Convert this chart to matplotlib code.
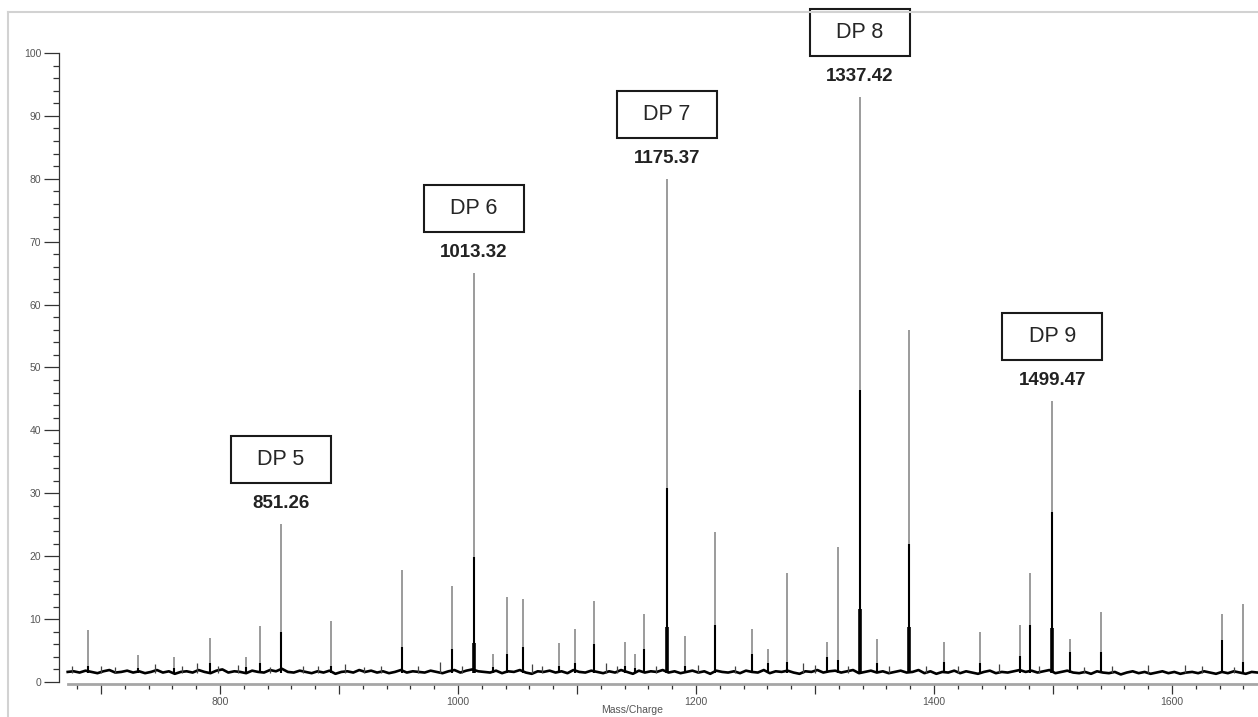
import numpy as np
import matplotlib
matplotlib.use("Agg")
from matplotlib import pyplot as plt
from matplotlib import rcParams
from matplotlib.patches import Rectangle
from matplotlib.lines import Line2D
from matplotlib.ticker import MultipleLocator, FuncFormatter
import matplotlib.transforms as mtransforms

rcParams['font.family'] = ['Liberation Sans', 'DejaVu Sans']

# Peaks: m/z, full stick height (gray), profile height (black)
peak_mz = [688.9, 731.1, 761.6, 791.7, 821.5, 833.6, 851.26, 893.6, 953.3, 994.9,
           1013.32, 1029.4, 1041.3, 1055.0, 1084.9, 1098.3, 1114.3, 1140.3, 1148.7,
           1156.5, 1175.37, 1190.7, 1216.1, 1247.0, 1260.5, 1276.6, 1310.3, 1319.2,
           1337.42, 1352.5, 1378.9, 1408.5, 1438.5, 1472.0, 1481.0, 1499.47, 1514.0,
           1540.0, 1642.0, 1660.0]
peak_full = [8.3, 4.3, 4.0, 7.0, 3.9, 8.9, 25.1, 9.7, 17.8, 15.3,
             65.0, 4.5, 13.5, 13.2, 6.2, 8.4, 12.9, 6.3, 4.5,
             10.8, 80.0, 7.3, 23.8, 8.4, 5.2, 17.3, 6.3, 21.4,
             93.0, 6.9, 56.0, 6.4, 8.0, 9.1, 17.4, 44.6, 6.8,
             11.1, 10.8, 12.4]
peak_profile = [2.5, 2.3, 2.3, 3.0, 2.4, 3.0, 7.9, 2.6, 5.6, 5.2,
                19.8, 2.4, 4.4, 5.6, 2.6, 3.0, 6.0, 2.6, 2.3,
                5.3, 30.9, 2.6, 9.1, 4.4, 3.0, 3.2, 4.0, 3.5,
                46.4, 3.0, 22.0, 3.2, 3.0, 4.2, 9.0, 27.0, 4.8,
                4.7, 6.6, 3.1]

# thicker core of the biggest peaks
core_mz = [1013.32, 1175.37, 1337.42, 1378.9, 1499.47]
core_h = [6.2, 8.7, 11.6, 8.8, 8.6]

# small spikes in the noise
spike_mz = [676, 700, 712, 745, 768, 781, 798, 815, 842, 870, 882, 905, 921, 935,
            966, 985, 1003, 1062, 1071, 1124, 1134, 1166, 1202, 1233, 1290, 1300,
            1328, 1362, 1393, 1420, 1455, 1488, 1526, 1550, 1580, 1611, 1625, 1652]
spike_h = [2.5, 2.6, 2.4, 2.8, 2.5, 3.0, 2.6, 2.7, 2.4, 2.6, 2.5, 2.9, 2.4, 2.5,
           2.6, 3.2, 2.5, 2.8, 2.5, 3.0, 2.6, 2.5, 2.7, 2.6, 3.0, 2.7,
           2.6, 2.5, 2.6, 2.6, 2.8, 2.5, 2.4, 2.6, 2.7, 2.7, 2.5, 2.4]

# baseline noise, sampled every 5 m/z from 672
noise_start, noise_step = 672, 5
noise = [1.6, 1.7, 1.5, 1.8, 1.6, 1.4, 1.7, 1.9, 1.5, 1.6,
         1.8, 1.5, 1.7, 1.4, 1.6, 1.9, 1.5, 1.7, 1.3, 1.6,
         1.7, 1.5, 1.9, 1.6, 1.4, 1.8, 2.0, 1.5, 1.7, 1.6,
         1.4, 1.8, 1.6, 1.5, 1.9, 1.7, 2.1, 1.6, 1.5, 1.8,
         1.6, 1.4, 1.7, 1.5, 1.8, 1.3, 1.6, 1.7, 1.5, 1.9,
         1.6, 1.8, 1.5, 1.7, 1.4, 1.6, 1.9, 1.5, 1.7, 1.6,
         1.5, 1.8, 1.6, 1.4, 1.7, 1.9, 1.5, 1.8, 2.0, 1.7,
         1.6, 1.5, 1.8, 1.4, 1.7, 1.6, 1.9, 1.5, 1.3, 1.7,
         1.6, 1.8, 1.5, 1.7, 1.4, 1.9, 1.6, 1.5, 1.8, 1.6,
         1.4, 1.7, 1.5, 1.9, 1.6, 1.3, 1.8, 1.5, 1.7, 1.6,
         1.9, 1.5, 1.7, 1.4, 1.6, 1.8, 1.5, 1.7, 1.3, 1.8,
         1.6, 1.5, 1.7, 1.4, 1.8, 1.6, 1.5, 1.9, 1.4, 1.7,
         1.6, 1.8, 1.5, 1.3, 1.7, 1.6, 1.9, 1.5, 1.7, 1.8,
         1.5, 1.7, 1.9, 1.4, 1.6, 1.8, 1.5, 1.7, 1.4, 1.6,
         1.8, 1.5, 1.6, 1.9, 1.4, 1.7, 1.3, 1.6, 1.5, 1.8,
         1.4, 1.7, 1.5, 1.3, 1.6, 1.8, 1.4, 1.6, 1.5, 1.7,
         1.9, 1.6, 1.8, 1.5, 1.7, 1.9, 1.4, 1.6, 1.8, 1.5,
         1.4, 1.6, 1.3, 1.7, 1.5, 1.4, 1.6, 1.2, 1.5, 1.7,
         1.4, 1.6, 1.3, 1.5, 1.7, 1.4, 1.6, 1.3, 1.5, 1.6,
         1.4, 1.7, 1.5, 1.3, 1.6, 1.4, 1.7, 1.5, 1.3, 1.6,
         1.5]

# labelled DP peaks
dp_names = ["DP 5", "DP 6", "DP 7", "DP 8", "DP 9"]
dp_mz = [851.26, 1013.32, 1175.37, 1337.42, 1499.47]
dp_height = [25.1, 65.0, 80.0, 93.0, 44.6]

W, H = 1258, 717
fig = plt.figure(figsize=(W / 100, H / 100), dpi=100)
ax = fig.add_axes([59 / W, 33 / H, 1199 / W, 631 / H])
ax.set_xlim(664.7, 1672.3)
ax.set_ylim(-0.32, 100)

noise_x = noise_start + noise_step * np.arange(len(noise))
ax.plot(noise_x, noise, color='black', lw=1.9, zorder=2)
ax.vlines(spike_mz, 1.5, spike_h, color='#444444', lw=0.9, zorder=2)
ax.vlines(peak_mz, 1.5, peak_full, color='#8a8a8a', lw=1.2, zorder=3)
ax.vlines(peak_mz, 1.5, peak_profile, color='black', lw=1.5, zorder=4)
ax.vlines(core_mz, 1.5, core_h, color='black', lw=2.6, zorder=4)

# DP boxes and m/z labels
for name, mz, h in zip(dp_names, dp_mz, dp_height):
    tr = mtransforms.Affine2D().translate(-50, 41) + \
        mtransforms.ScaledTranslation(mz, h, ax.transData)
    ax.add_patch(Rectangle((0, 0), 100, 47, transform=tr, fill=False,
                           ec='#1a1a1a', lw=1.5, clip_on=False, zorder=5))
    ax.annotate(name, (mz, h), xytext=(0, 64.5 * 0.72), textcoords='offset points',
                ha='center', va='center', fontsize=15.5, color='#262626')
    ax.annotate(f"{mz:.2f}", (mz, h), xytext=(0, 20.5 * 0.72), textcoords='offset points',
                ha='center', va='center', fontsize=13.5, fontweight='bold', color='#222222')

# axes styling
for s in ['top', 'right']:
    ax.spines[s].set_visible(False)
ax.spines['left'].set_bounds(0, 100)
ax.spines['left'].set_color('#333333')
ax.spines['left'].set_linewidth(0.9)
ax.spines['bottom'].set_bounds(672, 1672.3)
ax.spines['bottom'].set_color('#a6a6a6')
ax.spines['bottom'].set_linewidth(2.0)

ax.yaxis.set_major_locator(MultipleLocator(10))
ax.yaxis.set_minor_locator(MultipleLocator(2))
ax.xaxis.set_major_locator(MultipleLocator(100))
ax.xaxis.set_minor_locator(MultipleLocator(20))
ax.xaxis.set_major_formatter(FuncFormatter(lambda v, p: f"{v:.0f}" if v % 200 == 0 else ""))
ax.yaxis.set_major_formatter(FuncFormatter(lambda v, p: f"{v:.0f}"))
ax.tick_params(axis='y', which='major', length=10.8, width=0.9, color='#333333',
               labelsize=7.5, labelcolor='#555555', pad=2)
ax.tick_params(axis='y', which='minor', length=4.3, width=0.9, color='#333333')
ax.tick_params(axis='x', which='major', length=7.2, width=0.9, color='#333333',
               labelsize=7.5, labelcolor='#555555', pad=2.5)
ax.tick_params(axis='x', which='minor', length=3.6, width=0.9, color='#333333')

fig.text(632 / W, 1 - 710 / H, "Mass/Charge", ha='center', va='center',
         fontsize=7.5, color='#555555')

# light frame of the original window
fig.add_artist(Line2D([8 / W, 1.0], [1 - 12 / H] * 2, color='#d2d2d2', lw=1.5,
                      transform=fig.transFigure))
fig.add_artist(Line2D([8 / W] * 2, [0, 1 - 12 / H], color='#d2d2d2', lw=1.5,
                      transform=fig.transFigure))

fig.savefig("out.png", dpi=100)
